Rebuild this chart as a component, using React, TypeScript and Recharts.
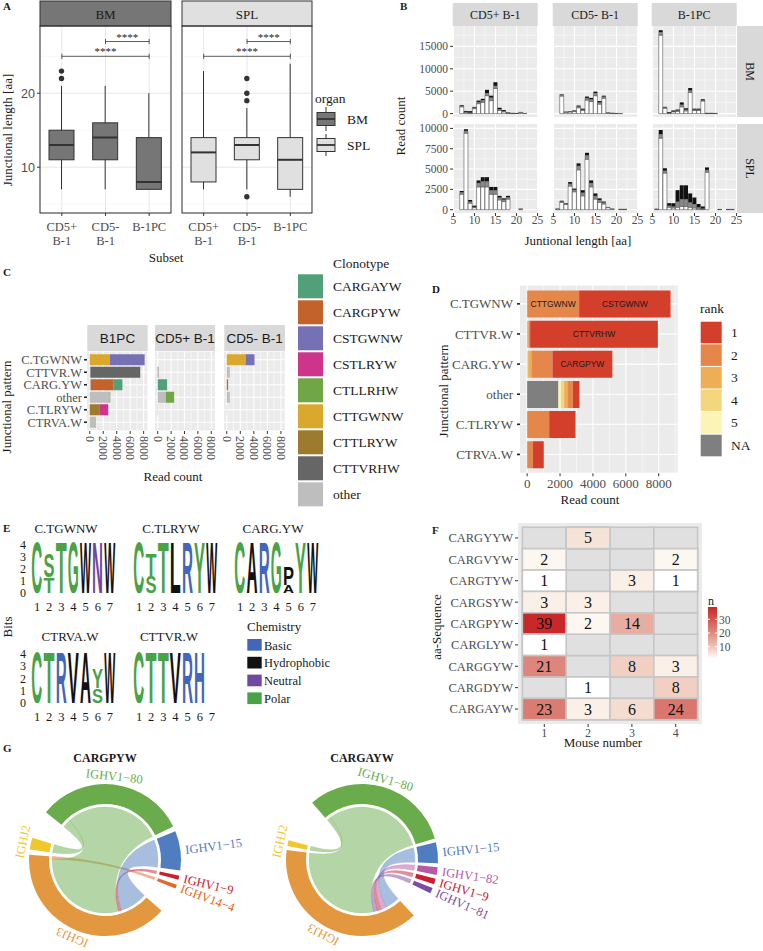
import React from "react";
import {
  Bar,
  BarChart,
  CartesianGrid,
  Cell,
  ComposedChart,
  LabelList,
  Pie,
  PieChart,
  ReferenceLine,
  Scatter,
  ScatterChart,
  XAxis,
  YAxis,
} from "recharts";

const SERIF = '"Liberation Serif", "DejaVu Serif", serif';
const SANS = '"Liberation Sans", Arial, sans-serif';
const INK = "#1a1a1a";
const TICK = "#4d4d4d";
const NOMARGIN = { top: 0, right: 0, bottom: 0, left: 0 };

// ---------- A: junctional length per subset (boxplot stats) ----------
const subsets = ["CD5+ B-1", "CD5- B-1", "B-1PC"];
const bmMin = [7, 7, 7];
const bmQ1 = [11, 11, 7];
const bmMedian = [13, 14, 8];
const bmQ3 = [15, 16, 14];
const bmMax = [21, 21, 20];
const bmOutliers = [[22, 23], [], []];
const splMin = [7, 7, 6];
const splQ1 = [8, 11, 7];
const splMedian = [12, 13, 11];
const splQ3 = [14, 14, 14];
const splMax = [23, 18, 24];
const splOutliers = [[], [6, 19, 20, 22], []];
const sigBrackets = [
  { from: "CD5+ B-1", to: "B-1PC", y: 25 },
  { from: "CD5- B-1", to: "B-1PC", y: 27 },
];

// ---------- B: reads per junctional length: [length, light, mid, dark] ----------
const histBmPos = [[7, 1500, 250, 150], [8, 200, 200, 200], [9, 100, 150, 300], [10, 1100, 250, 150], [11, 2200, 400, 300], [12, 2500, 500, 300], [13, 4000, 600, 700], [14, 2900, 700, 400], [15, 5600, 600, 800], [16, 700, 300, 300], [17, 400, 200, 200], [18, 100, 100, 50], [19, 50, 30, 20], [20, 30, 10, 10], [21, 200, 100, 0], [22, 50, 0, 0]];
const histBmNeg = [[7, 3900, 300, 100], [8, 300, 60, 40], [9, 350, 100, 50], [10, 450, 150, 100], [11, 1300, 300, 200], [12, 700, 200, 200], [13, 3000, 500, 300], [14, 2700, 500, 300], [15, 4000, 600, 300], [16, 2100, 400, 300], [17, 3400, 400, 200], [18, 150, 40, 10], [19, 60, 30, 10], [20, 30, 10, 0], [21, 30, 0, 0]];
const histBmPc = [[7, 17500, 700, 400], [8, 1200, 200, 100], [9, 100, 50, 150], [10, 400, 100, 200], [11, 500, 200, 200], [12, 1500, 500, 500], [13, 600, 300, 300], [14, 4700, 500, 500], [15, 700, 200, 200], [16, 700, 200, 200], [17, 2800, 200, 200], [18, 50, 30, 20], [19, 50, 30, 20], [20, 30, 10, 10]];
const histSplPos = [[7, 1900, 250, 150], [8, 9400, 300, 200], [9, 800, 200, 200], [10, 250, 100, 150], [11, 2800, 500, 300], [12, 2800, 700, 500], [13, 2800, 700, 500], [14, 1900, 500, 400], [15, 1900, 500, 400], [16, 1200, 300, 200], [17, 1000, 250, 150], [18, 1300, 250, 150], [21, 80, 20, 0]];
const histSplNeg = [[6, 80, 20, 0], [7, 900, 120, 80], [8, 650, 100, 50], [9, 2900, 300, 200], [10, 2200, 250, 150], [11, 4900, 500, 300], [12, 1700, 400, 300], [13, 6200, 500, 300], [14, 2800, 500, 300], [15, 1300, 400, 300], [16, 900, 300, 200], [17, 700, 200, 100], [18, 250, 50, 0], [19, 80, 20, 0], [21, 40, 10, 0], [22, 40, 10, 0]];
const histSplPc = [[6, 60, 20, 0], [7, 8800, 500, 500], [8, 4500, 300, 300], [9, 300, 200, 300], [10, 200, 200, 400], [11, 300, 700, 1400], [12, 400, 900, 1700], [13, 400, 900, 1700], [14, 300, 600, 1100], [15, 200, 500, 800], [16, 100, 200, 400], [17, 50, 100, 250], [18, 4600, 300, 300], [21, 30, 10, 0], [23, 30, 10, 0], [24, 30, 10, 0]];
const histSubsets = ["CD5+ B-1", "CD5- B-1", "B-1PC"];

// ---------- C: reads per junctional pattern, stacked by clonotype ----------
const patterns = ["C.TGWNW", "CTTVR.W", "CARG.YW", "other", "C.TLRYW", "CTRVA.W"];
const clonotypes = ["CARGAYW", "CARGPYW", "CSTGWNW", "CSTLRYW", "CTLLRHW", "CTTGWNW", "CTTLRYW", "CTTVRHW", "other"];
const clonotypeColors = ["#52a07a", "#c4622c", "#7670b4", "#ce348a", "#70a646", "#daa82c", "#9c7a2e", "#666666", "#bebebe"];
const readsB1pc = [
  { CTTGWNW: 3000, CSTGWNW: 5150 },
  { other: 100, CTTVRHW: 7400 },
  { other: 150, CARGPYW: 3400, CARGAYW: 1300 },
  { other: 2950, CTLLRHW: 100 },
  { CTTLRYW: 1500, CSTLRYW: 1250 },
  { other: 950 },
];
const readsCd5Pos = [{}, { CTTVRHW: 100 }, { CARGAYW: 1400 }, { other: 1200, CTLLRHW: 1250 }, { CTTGWNW: 40 }, {}];
const readsCd5Neg = [{ CTTGWNW: 2800, CSTGWNW: 1300 }, { other: 450 }, { CARGPYW: 200 }, { other: 450 }, { other: 40 }, {}];

// ---------- D: reads per pattern, stacked by clonotype rank ----------
const rankKeys = ["rNA", "r5", "r4", "r3", "r2", "r1"];
const rankLegend = ["1", "2", "3", "4", "5", "NA"];
const rankColors = ["#d33f2a", "#e5874a", "#eeae55", "#f4d67f", "#fbf4b6", "#7f7f7f"];
const rankReads = [
  { r2: 3160, r1: 5560 },
  { r3: 80, r2: 100, r1: 7770 },
  { r4: 60, r3: 200, r2: 1280, r1: 3640 },
  { rNA: 1900, r5: 150, r4: 200, r3: 200, r2: 330, r1: 400 },
  { r2: 1340, r1: 1600 },
  { r2: 340, r1: 670 },
];
const rankFirstLabel = ["CSTGWNW", "CTTVRHW", "CARGPYW", "", "", ""];
const rankSecondLabel = ["CTTGWNW", "", "", "", "", ""];

// ---------- E: sequence logos, per position [lower letter, bits, upper letter, bits] ----------
const logoPositions = ["1", "2", "3", "4", "5", "6", "7"];
const logoTGWNW = [["", 0, "C", 4.32], ["T", 1.3, "S", 2.0], ["", 0, "T", 4.32], ["", 0, "G", 4.32], ["", 0, "W", 4.32], ["", 0, "N", 4.32], ["", 0, "W", 4.32]];
const logoTLRYW = [["", 0, "C", 4.32], ["S", 1.4, "T", 1.9], ["", 0, "T", 4.32], ["", 0, "L", 4.32], ["", 0, "R", 4.32], ["", 0, "Y", 4.32], ["", 0, "W", 4.32]];
const logoCARGYW = [["", 0, "C", 4.32], ["", 0, "A", 4.32], ["", 0, "R", 4.32], ["", 0, "G", 4.32], ["A", 0.7, "P", 1.6], ["", 0, "Y", 4.32], ["", 0, "W", 4.32]];
const logoCTRVAW = [["", 0, "C", 4.32], ["", 0, "T", 4.32], ["", 0, "R", 4.32], ["", 0, "V", 4.32], ["", 0, "A", 4.32], ["S", 1.2, "Y", 1.7], ["", 0, "W", 4.32]];
const logoCTTVRW = [["", 0, "C", 4.32], ["", 0, "T", 4.32], ["", 0, "T", 4.32], ["", 0, "V", 4.32], ["", 0, "R", 4.32], ["", 0, "H", 4.32], ["", 0, "", 0]];
const chemistry = ["Basic", "Hydrophobic", "Neutral", "Polar"];
const chemColors = ["#4366b8", "#111111", "#7148a0", "#4aa247"];
const residueChem: Record<string, string> = {
  C: "Polar", S: "Polar", T: "Polar", G: "Polar", Y: "Polar",
  N: "Neutral", Q: "Neutral", R: "Basic", H: "Basic", K: "Basic",
  L: "Hydrophobic", W: "Hydrophobic", A: "Hydrophobic", V: "Hydrophobic", P: "Hydrophobic",
};

// ---------- F: CARG.YW sequences per mouse ----------
const heatSeqs = ["CARGAYW", "CARGDYW", "CARGGYW", "CARGLYW", "CARGPYW", "CARGSYW", "CARGTYW", "CARGVYW", "CARGYYW"];
const mice = [1, 2, 3, 4];
const heatCounts: [string, number, number][] = [
  ["CARGYYW", 2, 5],
  ["CARGVYW", 1, 2], ["CARGVYW", 4, 2],
  ["CARGTYW", 1, 1], ["CARGTYW", 3, 3], ["CARGTYW", 4, 1],
  ["CARGSYW", 1, 3], ["CARGSYW", 2, 3],
  ["CARGPYW", 1, 39], ["CARGPYW", 2, 2], ["CARGPYW", 3, 14],
  ["CARGLYW", 1, 1],
  ["CARGGYW", 1, 21], ["CARGGYW", 3, 8], ["CARGGYW", 4, 3],
  ["CARGDYW", 2, 1], ["CARGDYW", 4, 8],
  ["CARGAYW", 1, 23], ["CARGAYW", 2, 3], ["CARGAYW", 3, 6], ["CARGAYW", 4, 24],
];

// ---------- G: V-J gene pairing ----------
const pyV = ["IGHV1−80", "IGHV1−15", "IGHV1−9", "IGHV14−4"];
const pyJ = ["IGHJ2", "IGHJ3"];
const pyLinks = [
  { v: "IGHV1−80", j: "IGHJ2", n: 6 },
  { v: "IGHV14−4", j: "IGHJ3", n: 2 },
  { v: "IGHV1−80", j: "IGHJ3", n: 70 },
  { v: "IGHV1−9", j: "IGHJ3", n: 2 },
  { v: "IGHV1−15", j: "IGHJ3", n: 20 },
];
const ayV = ["IGHV1−80", "IGHV1−15", "IGHV1−82", "IGHV1−9", "IGHV1−81"];
const ayJ = ["IGHJ2", "IGHJ3"];
const ayLinks = [
  { v: "IGHV1−80", j: "IGHJ2", n: 3 },
  { v: "IGHV1−80", j: "IGHJ3", n: 76 },
  { v: "IGHV1−81", j: "IGHJ3", n: 3 },
  { v: "IGHV1−9", j: "IGHJ3", n: 3 },
  { v: "IGHV1−82", j: "IGHJ3", n: 4 },
  { v: "IGHV1−15", j: "IGHJ3", n: 11 },
];
const geneColor: Record<string, string> = {
  "IGHV1−80": "#6aab4b", "IGHV1−15": "#4f7dbf", "IGHV1−9": "#c8202e", "IGHV14−4": "#e06a2a",
  "IGHV1−82": "#b65aa6", "IGHV1−81": "#7b4ba6", IGHJ3: "#e3983f", IGHJ2: "#f2c72c",
};

// ---------- helpers ----------
// empty tick keeps the axis ticks (and so the grid lines) without drawing labels
const NoTick = () => <g />;

function heatColor(n: number) {
  const t = Math.max(0, Math.min(1, (n - 1) / 38));
  const r = Math.round(255 - 55 * Math.pow(t, 0.8));
  const g = Math.round(255 - 215 * Math.pow(t, 0.9));
  const b = Math.round(255 - 213 * Math.pow(t, 0.75));
  return `rgb(${r},${g},${b})`;
}

// same angle split as the Pie sectors
function sectorAngles(values: number[], start: number, end: number, pad: number) {
  const sign = Math.sign(end - start);
  const total = values.reduce((a, b) => a + b, 0);
  const real = Math.abs(end - start) - (values.length - 1) * pad;
  let prev = start;
  return values.map((v, i) => {
    const s = i === 0 ? start : prev + sign * pad;
    const e = s + sign * (v / total) * real;
    prev = e;
    return [s, e];
  });
}

// ---------- A ----------
function SubsetTick(p: any) {
  const parts = String(p.payload.value).split(" ");
  return (
    <text x={p.x} y={p.y} textAnchor="middle" fill={TICK} fontSize={12.5} fontFamily={SERIF}>
      {parts.map((s, i) => (
        <tspan key={i} x={p.x} dy={i === 0 ? 13 : 14}>{s}</tspan>
      ))}
    </text>
  );
}

function BoxShape(p: any) {
  const { x, y, width, height, payload, fill } = p;
  if (!payload || !(height > 0)) return null;
  const py = (v: number) => y + ((payload.hi - v) / (payload.hi - payload.lo)) * height;
  const cx = x + width / 2;
  return (
    <g>
      <line x1={cx} x2={cx} y1={py(payload.hi)} y2={py(payload.lo)} stroke="#333" strokeWidth={1} />
      <rect x={x} y={py(payload.q3)} width={width} height={py(payload.q1) - py(payload.q3)} fill={fill} stroke="#333" strokeWidth={1} />
      <line x1={x} x2={x + width} y1={py(payload.med)} y2={py(payload.med)} stroke="#333" strokeWidth={2} />
      {payload.out.map((v: number, i: number) => (
        <circle key={i} cx={cx} cy={py(v)} r={2.7} fill="#333" />
      ))}
    </g>
  );
}

const Stars = (p: any) => {
  const vb = p.viewBox || {};
  return (
    <text x={(vb.x || 0) + (vb.width || 0) / 2} y={(vb.y || 0) - 1} textAnchor="middle" fontSize={11} fill="#222" fontFamily={SERIF}>
      ****
    </text>
  );
};

function BoxFacet({ left, width, rows, fill, showY }: any) {
  return (
    <div style={{ position: "absolute", left, top: 26 }}>
      <ComposedChart width={width} height={223} data={rows} margin={NOMARGIN}>
        <CartesianGrid stroke="#e6e6e6" strokeWidth={1} />
        <CartesianGrid stroke="#efefef" strokeWidth={0.5} vertical={false} horizontalValues={[5, 15, 25]} />
        <XAxis dataKey="subset" height={36} interval={0} tickSize={3} tickLine={{ stroke: "#333" }} axisLine={false} tick={(p: any) => <SubsetTick {...p} />} />
        <YAxis
          type="number"
          domain={[3.8, 29.1]}
          ticks={[10, 20]}
          interval={0}
          allowDataOverflow
          width={showY ? 40 : 0}
          tick={showY ? { fill: TICK, fontSize: 12.5, fontFamily: SANS } : NoTick}
          tickLine={showY ? { stroke: "#333" } : false}
          tickSize={3}
          axisLine={false}
        />
        <Bar dataKey={(d: any) => [d.lo, d.hi]} fill={fill} barSize={25} isAnimationActive={false} shape={(p: any) => <BoxShape {...p} />} />
        {sigBrackets.map((b, i) => (
          <ReferenceLine
            key={`b${i}`}
            ifOverflow="visible"
            segment={[{ x: b.from, y: b.y }, { x: b.to, y: b.y }]}
            stroke="#333"
            strokeWidth={0.8}
            label={Stars}
          />
        ))}
        {sigBrackets.flatMap((b, i) =>
          [b.from, b.to].map((x, k) => (
            <ReferenceLine key={`t${i}${k}`} ifOverflow="visible" segment={[{ x, y: b.y - 0.35 }, { x, y: b.y + 0.35 }]} stroke="#333" strokeWidth={0.8} />
          ))
        )}
      </ComposedChart>
    </div>
  );
}

function boxRows(lo: number[], q1: number[], med: number[], q3: number[], hi: number[], out: number[][]) {
  return subsets.map((s, i) => ({ subset: s, lo: lo[i], q1: q1[i], med: med[i], q3: q3[i], hi: hi[i], out: out[i] }));
}

// ---------- B ----------
function HistFacet({ left, top, rows, plotH, yDomain, yTicks, yMinor, showY, showX }: any) {
  const data = rows.map((r: number[]) => ({ len: r[0], w: r[1], g: r[2], k: r[3] }));
  const yW = showY ? 40 : 0;
  const xH = showX ? 20 : 0;
  const m = { top: 7, right: 8, bottom: showX ? 0 : 7, left: 6 };
  return (
    <div style={{ position: "absolute", left: left - yW - m.left, top: top - m.top }}>
      <BarChart width={85 + yW + m.left + m.right} height={plotH + xH + m.top + m.bottom} data={data} margin={m} barSize={4}>
        <CartesianGrid fill="#ebebeb" stroke="#fff" strokeWidth={1.1} verticalValues={[5, 10, 15, 20, 25]} horizontalValues={yTicks} />
        <CartesianGrid stroke="#fff" strokeWidth={0.5} verticalValues={[7.5, 12.5, 17.5, 22.5]} horizontalValues={yMinor} />
        <XAxis
          type="number"
          dataKey="len"
          domain={[4.9, 25.1]}
          ticks={[5, 10, 15, 20, 25]}
          interval={0}
          allowDataOverflow
          height={xH}
          tick={showX ? { fill: TICK, fontSize: 11.5, fontFamily: SERIF } : NoTick}
          tickLine={showX ? { stroke: "#333" } : false}
          tickSize={3}
          tickMargin={0}
          axisLine={false}
        />
        <YAxis
          type="number"
          domain={yDomain}
          ticks={yTicks}
          interval={0}
          allowDataOverflow
          width={yW}
          tick={showY ? { fill: TICK, fontSize: 11.5, fontFamily: SERIF } : NoTick}
          tickLine={showY ? { stroke: "#333" } : false}
          tickSize={3}
          axisLine={false}
        />
        <Bar dataKey="w" stackId="s" fill="#ffffff" stroke="#222" strokeWidth={0.45} isAnimationActive={false} />
        <Bar dataKey="g" stackId="s" fill="#8a8a8a" stroke="#333" strokeWidth={0.3} isAnimationActive={false} />
        <Bar dataKey="k" stackId="s" fill="#111111" isAnimationActive={false} />
      </BarChart>
    </div>
  );
}

// ---------- C ----------
const RotatedTick = (p: any) => (
  <text x={p.x} y={p.y} transform={`rotate(90, ${p.x}, ${p.y})`} textAnchor="start" dominantBaseline="central" fontSize={12} fill={TICK} fontFamily={SERIF}>
    {p.payload.value}
  </text>
);

function PatternFacet({ left, width, reads, showY }: any) {
  const data = patterns.map((p, i) => ({ pattern: p, ...reads[i] }));
  const yW = showY ? 80 : 0;
  const m = { top: 0, right: 8, bottom: 0, left: 7 };
  const order = [...clonotypes].reverse();
  return (
    <div style={{ position: "absolute", left: left - yW - m.left, top: 351 }}>
      <BarChart layout="vertical" width={width + yW + m.left + m.right} height={110} data={data} margin={m} barCategoryGap="6%">
        <CartesianGrid fill="#ebebeb" stroke="#fff" strokeWidth={1.1} verticalValues={[0, 2000, 4000, 6000, 8000]} />
        <CartesianGrid stroke="#fff" strokeWidth={0.5} horizontal={false} verticalValues={[1000, 3000, 5000, 7000]} />
        <XAxis type="number" domain={[-408, 8558]} ticks={[0, 2000, 4000, 6000, 8000]} interval={0} allowDataOverflow height={30} tickSize={3} tickLine={{ stroke: "#333" }} axisLine={false} tick={(p: any) => <RotatedTick {...p} />} />
        <YAxis
          type="category"
          dataKey="pattern"
          width={yW}
          padding={{ top: 2.5, bottom: 2.5 }}
          tick={showY ? { fill: TICK, fontSize: 12.5, fontFamily: SERIF } : NoTick}
          tickLine={showY ? { stroke: "#222", strokeWidth: 1.6 } : false}
          tickSize={3}
          axisLine={false}
          interval={0}
        />
        {order.map((k) => (
          <Bar key={k} dataKey={k} stackId="c" fill={clonotypeColors[clonotypes.indexOf(k)]} isAnimationActive={false} />
        ))}
      </BarChart>
    </div>
  );
}

// ---------- E ----------
const letterShape = (which: "lo" | "hi") => (p: any) => {
  const { x, y, width, height, payload } = p;
  const L = which === "lo" ? payload?.loL : payload?.hiL;
  if (!L || !(height > 0.5)) return null;
  const color = chemColors[chemistry.indexOf(residueChem[L])];
  return (
    <text
      x={x + width / 2}
      y={y + height}
      fontSize={height / 0.73}
      textAnchor="middle"
      textLength={width}
      lengthAdjust="spacingAndGlyphs"
      fontFamily={SANS}
      fontWeight={700}
      fill={color}
    >
      {L}
    </text>
  );
};

function Logo({ left, top, plotH, cols, showY }: any) {
  const data = cols.map((c: any[], i: number) => ({ pos: logoPositions[i], loL: c[0], lo: c[1], hiL: c[2], hi: c[3] }));
  const yW = showY ? 20 : 0;
  const m = { top: 18, right: 0, bottom: 0, left: 0 };
  return (
    <div style={{ position: "absolute", left: left - yW, top: top - m.top }}>
      <BarChart width={85 + yW} height={plotH + 22 + m.top} data={data} margin={m} barCategoryGap="3%">
        <XAxis dataKey="pos" height={22} interval={0} tickSize={0} tickMargin={9} axisLine={false} tickLine={false} tick={{ fill: INK, fontSize: 12.5, fontFamily: SERIF }} />
        <YAxis
          type="number"
          domain={[0, 4.32]}
          ticks={[0, 1, 2, 3, 4]}
          interval={0}
          allowDataOverflow
          width={yW}
          tick={showY ? { fill: INK, fontSize: 12, fontFamily: SERIF } : NoTick}
          tickSize={0}
          tickMargin={5}
          axisLine={false}
          tickLine={false}
        />
        <Bar dataKey="lo" stackId="l" isAnimationActive={false} shape={letterShape("lo")} />
        <Bar dataKey="hi" stackId="l" isAnimationActive={false} shape={letterShape("hi")} />
      </BarChart>
    </div>
  );
}

// ---------- F ----------
const CELL_W = 43.8;
const CELL_H = 21.4;
const EmptyCell = (p: any) => (
  <rect x={p.cx - CELL_W / 2} y={p.cy - CELL_H / 2} width={CELL_W} height={CELL_H} fill="#e0e0e0" stroke="#c6c6c6" strokeWidth={1.6} />
);
const HeatCell = (p: any) => (
  <g>
    <rect x={p.cx - CELL_W / 2} y={p.cy - CELL_H / 2} width={CELL_W} height={CELL_H} fill={heatColor(p.payload.n)} stroke="#c6c6c6" strokeWidth={1.6} />
    <text x={p.cx} y={p.cy + 5.5} textAnchor="middle" fontSize={16} fontFamily={SERIF} fill="#111">
      {p.payload.n}
    </text>
  </g>
);

// ---------- G ----------
function GeneLabel(p: any) {
  const { cx, cy, midAngle, outerRadius } = p;
  const gene = p.payload?.gene ?? p.name;
  const span = Math.abs((p.endAngle ?? 0) - (p.startAngle ?? 0));
  const rad = (midAngle * Math.PI) / 180;
  const radial = span < 40 && Math.cos(rad) > 0;
  const r = outerRadius + (radial ? 5 : 4);
  const x = cx + r * Math.cos(rad);
  const y = cy - r * Math.sin(rad);
  const common = { fontSize: 12.5, fontFamily: SERIF, fill: geneColor[gene] };
  if (radial) {
    return (
      <text x={x} y={y} transform={`rotate(${-midAngle}, ${x}, ${y})`} textAnchor="start" dominantBaseline="central" {...common}>
        {gene}
      </text>
    );
  }
  return (
    <text x={x} y={y} transform={`rotate(${90 - midAngle}, ${x}, ${y})`} textAnchor="middle" {...common}>
      {gene}
    </text>
  );
}

function geneTotals(genes: string[], links: any[], side: "v" | "j") {
  return genes.map((g) => ({ gene: g, n: links.filter((l) => l[side] === g).reduce((s, l) => s + l.n, 0) }));
}

function Chords({ cx, cy, r, links, vGenes, jGenes, vStart, vEnd, jStart, jEnd, pad }: any) {
  const vTot = geneTotals(vGenes, links, "v").map((d) => d.n);
  const jTot = geneTotals(jGenes, links, "j").map((d) => d.n);
  const vAng = sectorAngles(vTot, vStart, vEnd, pad);
  const jAng = sectorAngles(jTot, jStart, jEnd, pad);
  const vCur = vAng.map((a) => a[0]);
  const jCur = jAng.map((a) => a[0]);
  const pt = (a: number) => [cx + r * Math.cos((a * Math.PI) / 180), cy - r * Math.sin((a * Math.PI) / 180)];
  return (
    <g>
      {links.map((l: any, i: number) => {
        const vi = vGenes.indexOf(l.v);
        const ji = jGenes.indexOf(l.j);
        const a1 = vCur[vi];
        const a2 = a1 + ((vAng[vi][1] - vAng[vi][0]) * l.n) / vTot[vi];
        vCur[vi] = a2;
        const b1 = jCur[ji];
        const b2 = b1 + ((jAng[ji][1] - jAng[ji][0]) * l.n) / jTot[ji];
        jCur[ji] = b2;
        const [x1, y1] = pt(a1);
        const [x2, y2] = pt(a2);
        const [x3, y3] = pt(b2);
        const [x4, y4] = pt(b1);
        const d = `M${x1},${y1} A${r},${r} 0 ${a1 - a2 > 180 ? 1 : 0} 1 ${x2},${y2} Q${cx},${cy} ${x3},${y3} A${r},${r} 0 ${b2 - b1 > 180 ? 1 : 0} 1 ${x4},${y4} Q${cx},${cy} ${x1},${y1} Z`;
        return <path key={i} d={d} fill={geneColor[l.v]} fillOpacity={0.5} stroke={geneColor[l.v]} strokeOpacity={0.4} strokeWidth={0.4} />;
      })}
    </g>
  );
}

const chordPy = { cx: 105, cy: 120, links: pyLinks, vGenes: pyV, jGenes: pyJ, vStart: 141, vEnd: -22, jStart: 163, jEnd: 318, pad: 4 };
const chordAy = { cx: 362, cy: 120, links: ayLinks, vGenes: ayV, jGenes: ayJ, vStart: 131, vEnd: -26, jStart: 165, jEnd: 313, pad: 3 };

function RingPies(c: any) {
  const v = geneTotals(c.vGenes, c.links, "v");
  const j = geneTotals(c.jGenes, c.links, "j");
  return [
    <Pie key={`v${c.cx}`} data={v} dataKey="n" nameKey="gene" cx={c.cx} cy={c.cy} innerRadius={56} outerRadius={76} startAngle={c.vStart} endAngle={c.vEnd} paddingAngle={c.pad} stroke="none" label={GeneLabel} labelLine={false} isAnimationActive={false}>
      {v.map((d) => <Cell key={d.gene} fill={geneColor[d.gene]} />)}
    </Pie>,
    <Pie key={`j${c.cx}`} data={j} dataKey="n" nameKey="gene" cx={c.cx} cy={c.cy} innerRadius={56} outerRadius={76} startAngle={c.jStart} endAngle={c.jEnd} paddingAngle={c.pad} stroke="none" label={GeneLabel} labelLine={false} isAnimationActive={false}>
      {j.map((d) => <Cell key={d.gene} fill={geneColor[d.gene]} />)}
    </Pie>,
  ];
}

// ---------- overlay text ----------
const T = (props: any) => <text fontFamily={SERIF} fill={INK} fontSize={13} {...props} />;
const VT = ({ x, y, children, ...rest }: any) => (
  <text x={x} y={y} transform={`rotate(-90, ${x}, ${y})`} textAnchor="middle" fontFamily={SERIF} fill={INK} fontSize={13} {...rest}>
    {children}
  </text>
);

export default function App() {
  const histCols = [452.7, 552.7, 651.7];
  const cStrips = [
    { x: 87.3, w: 60.4, label: "B1PC" },
    { x: 155, w: 60, label: "CD5+ B-1" },
    { x: 224.3, w: 60.7, label: "CD5- B-1" },
  ];
  const heatData = heatCounts.map(([s, m, n]) => ({ mouse: m, row: heatSeqs.indexOf(s) + 1, n }));
  const heatGrid = heatSeqs.flatMap((s, i) => mice.map((m) => ({ mouse: m, row: i + 1 })));
  const barY = (n: number) => 607 + ((39 - n) / 38) * 52;

  return (
    <div style={{ position: "absolute", left: 0, top: 0, width: 763, height: 951, background: "#fff", overflow: "hidden", fontFamily: SERIF }}>
      {/* A */}
      <BoxFacet left={0} width={171} rows={boxRows(bmMin, bmQ1, bmMedian, bmQ3, bmMax, bmOutliers)} fill="#767676" showY />
      <BoxFacet left={182} width={130} rows={boxRows(splMin, splQ1, splMedian, splQ3, splMax, splOutliers)} fill="#e0e0e0" showY={false} />

      {/* B */}
      <HistFacet left={histCols[0]} top={26} plotH={91} rows={histBmPos} yDomain={[-760, 19545]} yTicks={[0, 5000, 10000, 15000]} yMinor={[2500, 7500, 12500, 17500]} showY showX={false} />
      <HistFacet left={histCols[1]} top={26} plotH={91} rows={histBmNeg} yDomain={[-760, 19545]} yTicks={[0, 5000, 10000, 15000]} yMinor={[2500, 7500, 12500, 17500]} showY={false} showX={false} />
      <HistFacet left={histCols[2]} top={26} plotH={91} rows={histBmPc} yDomain={[-760, 19545]} yTicks={[0, 5000, 10000, 15000]} yMinor={[2500, 7500, 12500, 17500]} showY={false} showX={false} />
      <HistFacet left={histCols[0]} top={124} plotH={89} rows={histSplPos} yDomain={[-406, 10541]} yTicks={[0, 2500, 5000, 7500, 10000]} yMinor={[1250, 3750, 6250, 8750]} showY showX />
      <HistFacet left={histCols[1]} top={124} plotH={89} rows={histSplNeg} yDomain={[-406, 10541]} yTicks={[0, 2500, 5000, 7500, 10000]} yMinor={[1250, 3750, 6250, 8750]} showY={false} showX />
      <HistFacet left={histCols[2]} top={124} plotH={89} rows={histSplPc} yDomain={[-406, 10541]} yTicks={[0, 2500, 5000, 7500, 10000]} yMinor={[1250, 3750, 6250, 8750]} showY={false} showX />

      {/* C */}
      <PatternFacet left={87.3} width={60.4} reads={readsB1pc} showY />
      <PatternFacet left={155} width={60} reads={readsCd5Pos} showY={false} />
      <PatternFacet left={224.3} width={60.7} reads={readsCd5Neg} showY={false} />

      {/* D */}
      <div style={{ position: "absolute", left: 430, top: 285 }}>
        <BarChart
          layout="vertical"
          width={247.7}
          height={218.3}
          data={patterns.map((p, i) => ({ pattern: p, ...rankReads[i], lab1: rankFirstLabel[i], lab2: rankSecondLabel[i] }))}
          margin={NOMARGIN}
          barCategoryGap="6%"
        >
          <CartesianGrid fill="#ebebeb" stroke="#fff" strokeWidth={1.1} verticalValues={[0, 2000, 4000, 6000, 8000]} />
          <CartesianGrid stroke="#fff" strokeWidth={0.5} horizontal={false} verticalValues={[1000, 3000, 5000, 7000, 9000]} />
          <XAxis type="number" domain={[-436, 9156]} ticks={[0, 2000, 4000, 6000, 8000]} interval={0} allowDataOverflow height={30} tickSize={3} tickLine={{ stroke: "#333" }} axisLine={false} tick={{ fill: TICK, fontSize: 13, fontFamily: SERIF }} />
          <YAxis type="category" dataKey="pattern" width={90} padding={{ top: 3.8, bottom: 3.8 }} interval={0} tick={{ fill: TICK, fontSize: 13, fontFamily: SERIF }} tickLine={{ stroke: "#222", strokeWidth: 1.6 }} tickSize={3} tickMargin={4} axisLine={false} />
          {rankKeys.map((k) => (
            <Bar key={k} dataKey={k} stackId="r" fill={rankColors[k === "rNA" ? 5 : Number(k.slice(1)) - 1]} isAnimationActive={false}>
              {k === "r1" && <LabelList dataKey="lab1" position="center" fontSize={8.5} fill={INK} fontFamily={SANS} />}
              {k === "r2" && <LabelList dataKey="lab2" position="center" fontSize={8.5} fill={INK} fontFamily={SANS} />}
            </Bar>
          ))}
        </BarChart>
      </div>

      {/* E */}
      <Logo left={31.2} top={541.1} plotH={52.2} cols={logoTGWNW} showY />
      <Logo left={133.2} top={541.1} plotH={52.2} cols={logoTLRYW} showY={false} />
      <Logo left={234} top={541.1} plotH={52.2} cols={logoCARGYW} showY={false} />
      <Logo left={31.2} top={650.4} plotH={52.9} cols={logoCTRVAW} showY />
      <Logo left={133.2} top={650.4} plotH={52.9} cols={logoCTTVRW} showY={false} />

      {/* F */}
      <div style={{ position: "absolute", left: 408, top: 523 }}>
        <ScatterChart width={294} height={221} margin={NOMARGIN}>
          <CartesianGrid fill="#ebebeb" stroke="none" />
          <XAxis type="number" dataKey="mouse" domain={[0.4, 4.6]} ticks={mice} interval={0} allowDataOverflow height={20} tickSize={3} tickMargin={1} axisLine={false} tickLine={{ stroke: "#333" }} tick={{ fill: TICK, fontSize: 12, fontFamily: SERIF }} />
          <YAxis
            type="number"
            dataKey="row"
            domain={[0.3, 9.7]}
            ticks={heatSeqs.map((_, i) => i + 1)}
            interval={0}
            tickFormatter={(v: number) => heatSeqs[v - 1]}
            allowDataOverflow
            width={110}
            tickSize={3}
            tickMargin={2}
            axisLine={false}
            tickLine={{ stroke: "#333" }}
            tick={{ fill: TICK, fontSize: 12.5, fontFamily: SERIF }}
          />
          <Scatter data={heatGrid} shape={EmptyCell} isAnimationActive={false} />
          <Scatter data={heatData} shape={HeatCell} isAnimationActive={false} />
        </ScatterChart>
      </div>

      {/* G */}
      <div style={{ position: "absolute", left: 0, top: 740 }}>
        <svg width={620} height={211} style={{ position: "absolute", left: 0, top: 0 }}>
          <Chords r={53} {...chordPy} />
          <Chords r={53} {...chordAy} />
        </svg>
        <div style={{ position: "absolute", left: 0, top: 0 }}>
          <PieChart width={620} height={211} margin={NOMARGIN}>
            {RingPies(chordPy)}
            {RingPies(chordAy)}
          </PieChart>
        </div>
      </div>

      {/* titles, strips, legends */}
      <svg width={763} height={951} style={{ position: "absolute", left: 0, top: 0, pointerEvents: "none" }}>
        {[["A", 3, 10], ["B", 400, 10], ["C", 3, 276], ["D", 432, 293], ["E", 3, 532], ["F", 432, 534], ["G", 3, 752]].map(([l, x, y]) => (
          <T key={String(l)} x={x} y={y} fontWeight={700} fontSize={11}>{l}</T>
        ))}

        {/* A */}
        <rect x={40} y={1} width={131} height={25} fill="#767676" stroke="#333" />
        <T x={105.5} y={18.5} textAnchor="middle" fontSize={13}>BM</T>
        <rect x={182} y={1} width={130} height={25} fill="#e0e0e0" stroke="#333" />
        <T x={247} y={18.5} textAnchor="middle" fontSize={13}>SPL</T>
        <rect x={40} y={26} width={131} height={187} fill="none" stroke="#333" />
        <rect x={182} y={26} width={130} height={187} fill="none" stroke="#333" />
        <T x={166} y={262} textAnchor="middle">Subset</T>
        <VT x={12} y={130}>Junctional length [aa]</VT>
        <T x={315} y={103} fontSize={13.5}>organ</T>
        <line x1={326} x2={326} y1={107} y2={131} stroke="#333" />
        <rect x={317} y={112.5} width={18} height={13} fill="#767676" stroke="#333" />
        <line x1={317} x2={335} y1={119} y2={119} stroke="#333" strokeWidth={1.8} />
        <T x={347} y={124} fontSize={13.5}>BM</T>
        <line x1={326} x2={326} y1={134} y2={156} stroke="#333" />
        <rect x={317} y={138.5} width={18} height={13} fill="#e0e0e0" stroke="#333" />
        <line x1={317} x2={335} y1={145} y2={145} stroke="#333" strokeWidth={1.8} />
        <T x={347} y={150} fontSize={13.5}>SPL</T>

        {/* B */}
        {histCols.map((x, i) => (
          <g key={i}>
            <rect x={x} y={3} width={85} height={23} fill="#d9d9d9" />
            <T x={x + 42.5} y={19} textAnchor="middle" fontSize={12}>{histSubsets[i]}</T>
          </g>
        ))}
        <rect x={737} y={26} width={26} height={91} fill="#d9d9d9" />
        <rect x={737} y={124} width={26} height={89} fill="#d9d9d9" />
        <text x={750} y={71.5} transform="rotate(90, 750, 71.5)" textAnchor="middle" dominantBaseline="central" fontFamily={SERIF} fontSize={12} fill={INK}>BM</text>
        <text x={750} y={168.5} transform="rotate(90, 750, 168.5)" textAnchor="middle" dominantBaseline="central" fontFamily={SERIF} fontSize={12} fill={INK}>SPL</text>
        <VT x={405} y={126}>Read count</VT>
        <T x={578} y={245} textAnchor="middle">Juntional length [aa]</T>

        {/* C */}
        {cStrips.map((s) => (
          <g key={s.label}>
            <rect x={s.x} y={325} width={s.w} height={26} fill="#d9d9d9" />
            <text x={s.x + s.w / 2} y={343} textAnchor="middle" fontFamily={SANS} fontSize={13.5} fill={INK}>{s.label}</text>
          </g>
        ))}
        <VT x={11} y={407}>Junctional pattern</VT>
        <T x={173} y={481} textAnchor="middle">Read count</T>
        <T x={333} y={268} fontSize={13.5}>Clonotype</T>
        {clonotypes.map((c, i) => (
          <g key={c}>
            <rect x={298} y={274.3 + i * 26} width={25} height={24} fill={clonotypeColors[i]} />
            <T x={333} y={291 + i * 26} fontSize={13.5}>{c}</T>
          </g>
        ))}

        {/* D */}
        <VT x={448} y={391}>Junctional pattern</VT>
        <T x={590} y={504} textAnchor="middle">Read count</T>
        <T x={700} y={313} fontSize={13.5}>rank</T>
        {rankLegend.map((r, i) => (
          <g key={r}>
            <rect x={700.7} y={321.7 + i * 22.6} width={21} height={21.6} fill={rankColors[i]} />
            <T x={731} y={337 + i * 22.6} fontSize={13.5}>{r}</T>
          </g>
        ))}

        {/* E */}
        <T x={66} y={533} textAnchor="middle">C.TGWNW</T>
        <T x={171} y={533} textAnchor="middle">C.TLRYW</T>
        <T x={273} y={533} textAnchor="middle">CARG.YW</T>
        <T x={70} y={641} textAnchor="middle">CTRVA.W</T>
        <T x={169} y={641} textAnchor="middle">CTTVR.W</T>
        <VT x={12} y={627}>Bits</VT>
        <T x={247} y={631} fontSize={13}>Chemistry</T>
        {chemistry.map((c, i) => (
          <g key={c}>
            <rect x={247.3} y={639 + i * 17.8} width={14.4} height={11.7} fill={chemColors[i]} />
            <T x={264} y={649.5 + i * 17.8} fontSize={12.5}>{c}</T>
          </g>
        ))}

        {/* F */}
        <VT x={441} y={627}>aa-Sequence</VT>
        <T x={603} y={747} textAnchor="middle">Mouse number</T>
        <T x={708} y={605} fontSize={12}>n</T>
        <defs>
          <linearGradient id="nbar" x1="0" y1="0" x2="0" y2="1">
            {[39, 30, 20, 10, 1].map((n) => (
              <stop key={n} offset={(39 - n) / 38} stopColor={heatColor(n)} />
            ))}
          </linearGradient>
        </defs>
        <rect x={708} y={607} width={9} height={52} fill="url(#nbar)" />
        {[30, 20, 10].map((n) => (
          <g key={n}>
            <line x1={708} x2={710} y1={barY(n)} y2={barY(n)} stroke="#fff" />
            <line x1={715} x2={717} y1={barY(n)} y2={barY(n)} stroke="#fff" />
            <T x={719} y={barY(n) + 4.3} fontSize={11.5} fill={TICK}>{n}</T>
          </g>
        ))}

        {/* G */}
        <T x={105} y={762} textAnchor="middle" fontWeight={700} fontSize={12}>CARGPYW</T>
        <T x={362} y={762} textAnchor="middle" fontWeight={700} fontSize={12}>CARGAYW</T>
      </svg>
    </div>
  );
}
